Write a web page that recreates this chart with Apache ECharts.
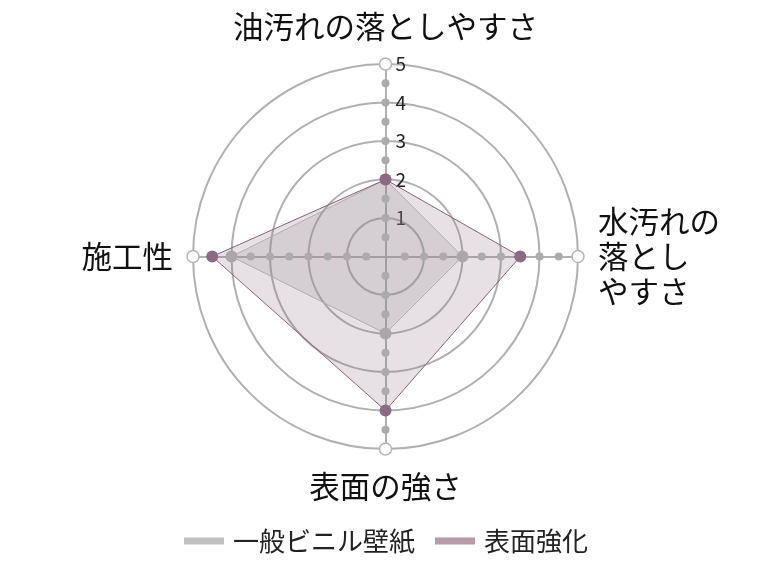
<!DOCTYPE html>
<html>
<head>
<meta charset="utf-8">
<script src="https://cdn.jsdelivr.net/npm/echarts@6/dist/echarts.min.js"></script>
<style>
html,body{margin:0;padding:0;background:#fff;}
#main{width:772px;height:565px;}
</style>
</head>
<body>
<div id="main"></div>
<script>
// 指標（反時計回り：上・左・下・右）
var indicatorNames = ['油汚れの落としやすさ', '施工性', '表面の強さ', '水汚れの\n落とし\nやすさ'];
var maxValue = 5;
var seriesNames = ['一般ビニル壁紙', '表面強化'];
var vinylValues = [2, 4, 2, 2];
var strongValues = [2, 4.5, 4, 3.5];
// 軸上の目盛り点
var tickSteps = [0.5, 1, 1.5, 2, 2.5, 3, 3.5, 4, 4.5];

var font = '"Noto Sans CJK JP", "Noto Sans", sans-serif';
var myChart = echarts.init(document.getElementById('main'));

var indicator = [];
for (var i = 0; i < indicatorNames.length; i++) {
    var ind = { name: indicatorNames[i], min: 0, max: maxValue };
    if (i != 0) {
        ind.axisLabel = { show: false };
    }
    indicator.push(ind);
}

var tickData = [];
for (var t = 0; t < tickSteps.length; t++) {
    var v = [];
    for (var k = 0; k < indicatorNames.length; k++) v.push(tickSteps[t]);
    tickData.push({ value: v });
}
var endV = [];
for (var k2 = 0; k2 < indicatorNames.length; k2++) endV.push(maxValue);
tickData.push({
    value: endV,
    symbolSize: 12,
    itemStyle: { color: '#fff', borderColor: '#b4b4b4', borderWidth: 1.5 }
});

var option = {
    backgroundColor: '#fff',
    animation: false,
    legend: {
        data: [
            { name: seriesNames[0], itemStyle: { color: '#c0c0c0' } },
            { name: seriesNames[1], itemStyle: { color: '#b89aaa' } }
        ],
        bottom: 6,
        left: 'center',
        icon: 'rect',
        itemWidth: 40,
        itemHeight: 7,
        itemGap: 20,
        textStyle: { fontSize: 26, color: '#222', fontFamily: font, padding: [0, 0, 0, 4] }
    },
    radar: {
        center: [385.5, 256.5],
        radius: 192.5,
        shape: 'circle',
        splitNumber: 5,
        nameGap: 20,
        axisName: {
            color: '#111',
            fontSize: 30.5,
            fontFamily: font,
            lineHeight: 35
        },
        splitArea: { show: false },
        splitLine: { lineStyle: { color: '#b0b0b0', width: 2 } },
        axisLine: { lineStyle: { color: '#b0b0b0', width: 2 } },
        axisTick: { show: false },
        axisLabel: {
            show: true,
            color: '#222',
            fontSize: 19,
            fontFamily: font,
            margin: -10,
            align: 'left',
            showMinLabel: false
        },
        indicator: indicator
    },
    series: [
        {
            name: 'ticks',
            type: 'radar',
            silent: true,
            symbol: 'circle',
            symbolSize: 8,
            itemStyle: { color: '#ababab' },
            lineStyle: { opacity: 0, width: 0 },
            data: tickData
        },
        {
            name: seriesNames[0],
            type: 'radar',
            symbol: 'circle',
            symbolSize: 12,
            itemStyle: { color: '#aca6ab' },
            lineStyle: { color: '#c2c2c2', width: 1 },
            areaStyle: { color: 'rgba(153,153,156,0.32)' },
            data: [{ value: vinylValues }]
        },
        {
            name: seriesNames[1],
            type: 'radar',
            symbol: 'circle',
            symbolSize: 12,
            itemStyle: { color: '#8c6a82' },
            lineStyle: { color: '#8a5e7b', width: 1 },
            areaStyle: { color: 'rgba(142,115,138,0.3)' },
            data: [{ value: strongValues }]
        }
    ]
};
myChart.setOption(option);
</script>
</body>
</html>
